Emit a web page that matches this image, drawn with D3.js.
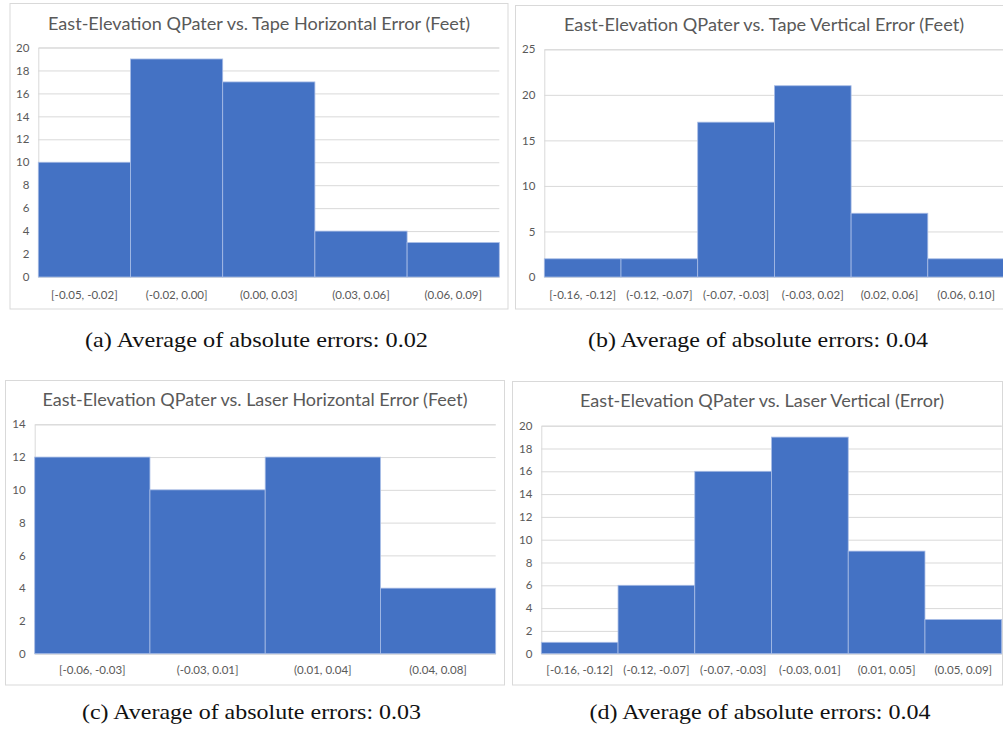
<!DOCTYPE html>
<html>
<head>
<meta charset="utf-8">
<script src="https://cdn.jsdelivr.net/npm/d3@7"></script>
<style>
  html, body { margin: 0; padding: 0; background: #fff; }
  svg { display: block; }
</style>
</head>
<body>
<svg id="fig" width="1003" height="730"></svg>
<script>
// Histogram counts per error bin, one set per panel
const titleA = "East-Elevation QPater vs. Tape Horizontal Error (Feet)";
const binsA = ["[-0.05, -0.02]", "(-0.02, 0.00]", "(0.00, 0.03]", "(0.03, 0.06]", "(0.06, 0.09]"];
const countsA = [10, 19, 17, 4, 3];
const ticksA = [0, 2, 4, 6, 8, 10, 12, 14, 16, 18, 20];
const captionA = "(a)  Average of absolute errors: 0.02";

const titleB = "East-Elevation QPater vs. Tape Vertical Error (Feet)";
const binsB = ["[-0.16, -0.12]", "(-0.12, -0.07]", "(-0.07, -0.03]", "(-0.03, 0.02]", "(0.02, 0.06]", "(0.06, 0.10]"];
const countsB = [2, 2, 17, 21, 7, 2];
const ticksB = [0, 5, 10, 15, 20, 25];
const captionB = "(b)  Average of absolute errors: 0.04";

const titleC = "East-Elevation QPater vs. Laser Horizontal Error (Feet)";
const binsC = ["[-0.06, -0.03]", "(-0.03, 0.01]", "(0.01, 0.04]", "(0.04, 0.08]"];
const countsC = [12, 10, 12, 4];
const ticksC = [0, 2, 4, 6, 8, 10, 12, 14];
const captionC = "(c)  Average of absolute errors: 0.03";

const titleD = "East-Elevation QPater vs. Laser Vertical (Error)";
const binsD = ["[-0.16, -0.12]", "(-0.12, -0.07]", "(-0.07, -0.03]", "(-0.03, 0.01]", "(0.01, 0.05]", "(0.05, 0.09]"];
const countsD = [1, 6, 16, 19, 9, 3];
const ticksD = [0, 2, 4, 6, 8, 10, 12, 14, 16, 18, 20];
const captionD = "(d)  Average of absolute errors: 0.04";

// Panel layout
const panels = [
  { title: titleA, bins: binsA, counts: countsA, ticks: ticksA, caption: captionA,
    box: [10, 3.5, 498, 305.5], plot: [38.3, 499.3, 47.5, 277], titleX: 259, titleY: 29.5, titleW: 422,
    labelY: 298.5, capX: 256.5, capY: 347, capW: 343 },
  { title: titleB, bins: binsB, counts: countsB, ticks: ticksB, caption: captionB,
    box: [515.5, 5.5, 500, 303.5], plot: [544.3, 1004.5, 49.3, 277], titleX: 764, titleY: 30.5, titleW: 400,
    labelY: 298.5, capX: 758, capY: 347, capW: 340 },
  { title: titleC, bins: binsC, counts: countsC, ticks: ticksC, caption: captionC,
    box: [5.5, 380.5, 499, 304.5], plot: [34.7, 495.7, 424.3, 653.7], titleX: 255, titleY: 405.5, titleW: 425,
    labelY: 674.5, capX: 251.5, capY: 719, capW: 339 },
  { title: titleD, bins: binsD, counts: countsD, ticks: ticksD, caption: captionD,
    box: [512.5, 381.5, 490, 303.5], plot: [541.3, 1001.7, 425.7, 653.7], titleX: 762, titleY: 406.5, titleW: 364,
    labelY: 674.5, capX: 760, capY: 719, capW: 341 }
];

const svg = d3.select("#fig");
const textColor = "#595959";
const gridColor = "#d9d9d9";
const barColor = "#4472c4";

panels.forEach(p => {
  const g = svg.append("g");
  const [bx, by, bw, bh] = p.box;
  const [x0, x1, yTop, yBot] = p.plot;

  // chart frame
  g.append("rect")
    .attr("x", bx).attr("y", by).attr("width", bw).attr("height", bh)
    .attr("fill", "#fff").attr("stroke", gridColor).attr("stroke-width", 1);

  const x = d3.scaleBand().domain(p.bins).range([x0, x1]).padding(0);
  const y = d3.scaleLinear().domain([0, d3.max(p.ticks)]).range([yBot, yTop]);

  // horizontal gridlines + y tick labels
  const yAxis = d3.axisLeft(y).tickValues(p.ticks).tickSize(-(x1 - x0)).tickPadding(9);
  const ya = g.append("g").attr("transform", `translate(${x0},0)`).call(yAxis);
  ya.select(".domain").attr("stroke", gridColor);
  ya.selectAll(".tick line").attr("stroke", gridColor).attr("stroke-width", 1);
  ya.selectAll(".tick text")
    .attr("fill", textColor).attr("font-family", "Lato, 'Open Sans', sans-serif").attr("font-size", 11.5);

  // bars
  g.append("g").selectAll("rect")
    .data(p.counts)
    .join("rect")
    .attr("x", (d, i) => x(p.bins[i]))
    .attr("y", d => y(d))
    .attr("width", x.bandwidth())
    .attr("height", d => y(0) - y(d))
    .attr("fill", barColor)
    .attr("stroke", "#a9bde6")
    .attr("stroke-width", 0.8);

  // category labels
  const xAxis = d3.axisBottom(x).tickSize(0).tickPadding(0);
  const xa = g.append("g").attr("transform", `translate(0,${yBot})`).call(xAxis);
  xa.select(".domain").remove();
  xa.selectAll(".tick text")
    .attr("y", p.labelY - yBot).attr("dy", 0)
    .attr("fill", textColor).attr("font-family", "Lato, 'Open Sans', sans-serif").attr("font-size", 11.5);

  // chart title
  g.append("text")
    .attr("x", p.titleX).attr("y", p.titleY)
    .attr("text-anchor", "middle")
    .attr("fill", textColor)
    .attr("font-family", "Lato, 'Open Sans', sans-serif")
    .attr("font-size", 18)
    .attr("textLength", p.titleW).attr("lengthAdjust", "spacingAndGlyphs")
    .text(p.title);

  // sub-figure caption
  svg.append("text")
    .attr("x", p.capX).attr("y", p.capY)
    .attr("text-anchor", "middle")
    .attr("fill", "#111")
    .attr("font-family", "'Liberation Serif', 'DejaVu Serif', serif")
    .attr("font-size", 21)
    .attr("textLength", p.capW).attr("lengthAdjust", "spacingAndGlyphs")
    .text(p.caption);
});
</script>
</body>
</html>
